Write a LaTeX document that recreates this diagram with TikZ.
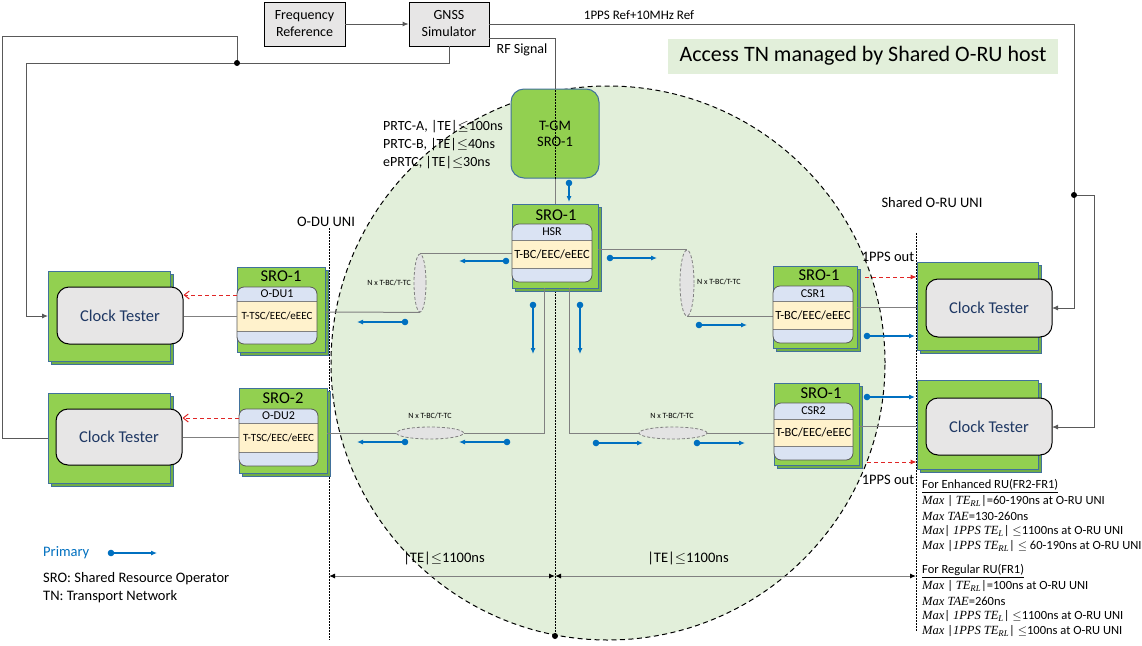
\documentclass[tikz,border=0pt]{standalone}
\usepackage{fontspec}
\setmainfont{Carlito}
\newfontfamily\mfont{Liberation Serif}
\usetikzlibrary{arrows.meta,shapes.geometric,shadows,calc}
\definecolor{ggreen}{HTML}{92D050}
\definecolor{gdark}{HTML}{70AD47}
\definecolor{gborder}{HTML}{41719C}
\definecolor{sblue}{HTML}{DAE3F3}
\definecolor{scream}{HTML}{FFF2CC}
\definecolor{sborder}{HTML}{595959}
\definecolor{ctgray}{HTML}{E7E6E6}
\definecolor{ctblue}{HTML}{1F3864}
\definecolor{pblue}{HTML}{0070C0}
\definecolor{rred}{HTML}{E02626}
\definecolor{cgreen}{HTML}{E2EFDA}
\definecolor{wgray}{HTML}{808080}
\definecolor{fgray}{HTML}{595959}
\definecolor{elgray}{HTML}{E3E3E3}
\newcommand\fs[1]{\fontsize{#1}{#1}\selectfont}
\newcommand\mi[1]{{\mfont\itshape #1}}
\newcommand\boxat[6]{\node[#1, minimum width={#5-#3}, minimum height={#6-#4}] (#2) at ({(#3+#5)/2},{(#4+#6)/2}) {};}
\newcommand\stripes[9]{%
  \begin{scope}
    \clip[rounded corners=7pt] (#2,#4) rectangle (#3,#7);
    \fill[sblue] (#2,#4) rectangle (#3,#5);
    \fill[scream] (#2,#5) rectangle (#3,#6);
    \fill[sblue] (#2,#6) rectangle (#3,#7);
    \draw[wgray, line width=0.8pt] (#2,#5) -- (#3,#5) (#2,#6) -- (#3,#6);
  \end{scope}
  \draw[sborder, line width=0.8pt, rounded corners=7pt] (#2,#4) rectangle (#3,#7);
  \node[font=\fs{12}, inner sep=0pt] (#1a) at ({(#2+#3)/2},{(#4+#5)/2}) {#8};
  \node[inner sep=0pt] (#1b) at ({(#2+#3)/2},{(#5+#6)/2}) {#9};}
\newcommand\parr[4]{\fill[pblue] (#1,#2) circle [radius=3.3pt];
  \draw[pblue, line width=1.1pt, -{Latex[length=6pt,width=5pt]}] (#1,#2) -- (#3,#4);}
\begin{document}
\begin{tikzpicture}[x=1pt,y=-1pt,
  gbox/.style={draw=gborder, fill=ggreen, line width=0.8pt, inner sep=0pt,
    copy shadow={shadow xshift=3pt, shadow yshift=-3pt, fill=gdark, draw=gborder, line width=0.8pt}},
  ctin/.style={draw=black, fill=ctgray, rounded corners=12pt, line width=1pt, inner sep=0pt, text=ctblue, font=\fs{16.5}},
  topbox/.style={draw=black, fill=ctgray, line width=0.8pt, inner sep=0pt, align=center, font=\fontsize{14}{17}\selectfont},
  title/.style={font=\fs{16.5}, inner sep=0pt},
  lbl/.style={font=\fs{14}, inner sep=0pt},
  wire/.style={wgray, line width=1pt},
  feed/.style={fgray, line width=0.9pt},
  redarr/.style={rred, line width=1pt, dash pattern=on 4pt off 3pt},
  nell/.style={ellipse, draw=wgray, fill=elgray, dash pattern=on 3pt off 2pt, line width=0.8pt, inner sep=0pt},
  small/.style={font=\fs{8}, inner sep=0pt},
  uni/.style={black, line width=0.6pt, dash pattern=on 1.5pt off 1.5pt},
  dim/.style={wgray, line width=1pt, {Latex[length=6pt,width=5pt,black]}-{Latex[length=6pt,width=5pt,black]}},
  rtxt/.style={anchor=west, inner sep=0pt, font=\fs{12.5}}
]
\useasboundingbox (0,0) rectangle (1142,645);
\fill[white] (0,0) rectangle (1142,645);

% shared circle
\fill[cgreen] (608,363) circle [radius=277pt];
\draw[black, line width=1pt, dash pattern=on 5pt off 3.5pt] (608,363) circle [radius=277pt];

% title
\node[fill=cgreen, minimum width=390, minimum height=35, font=\fs{22}, inner sep=0pt] (ttl) at (863,56) {Access TN managed by Shared O-RU host};

% top boxes
\node[topbox, minimum width=81, minimum height=44] (freq) at (304.5,24) {Frequency\\Reference};
\node[topbox, minimum width=80, minimum height=44] (gnss) at (449,24) {GNSS\\Simulator};
\draw[feed, -{Latex[length=6pt,width=5pt]}] (freq.east) -- (gnss.west);
\node[font=\fs{13}, inner sep=0pt] (ppsref) at (639,15) {1PPS Ref+10MHz Ref};
\node[lbl] (rfs) at (522,50) {RF Signal};

% junctions
\coordinate (jl) at (237,63);
\coordinate (jr) at (1074,195);

% T-GM
\node[draw=gborder, fill=ggreen, rounded corners=13pt, line width=1pt, minimum width=88, minimum height=89, inner sep=0pt, align=center, font=\fontsize{14.5}{16}\selectfont] (tgm) at (555,133.5) {T-GM\\SRO-1};
\draw[uni] (555,90) -- (555,636);
\fill (555,636) circle [radius=3pt];

% PRTC labels
\node[lbl, anchor=west] (prtca) at (383,127) {PRTC-A, |TE|$\leq$100ns};
\node[lbl, anchor=west] (prtcb) at (383,145) {PRTC-B, |TE|$\leq$40ns};
\node[lbl, anchor=west] (eprtc) at (383,163) {ePRTC, |TE|$\leq$30ns};

% UNI lines and labels
\draw[uni] (329,228) -- (329,640);
\draw[uni] (916,233) -- (916,632);
\node[font=\fs{14.5}, inner sep=0pt] (odul) at (326,222) {O-DU UNI};
\node[font=\fs{14.5}, inner sep=0pt] (orul) at (932,203) {Shared O-RU UNI};

% feed lines from GNSS
\draw[feed] (gnss.east |- 0,24) -| (jr);
\draw[feed, -{Latex[length=6pt,width=5pt]}] (jr) -- (1074,308) -- (1052,308);
\draw[feed, -{Latex[length=6pt,width=5pt]}] (jr) -- (1094,195) -- (1094,427) -- (1052,427);
\draw[feed] (gnss.east |- 0,38) -| (tgm.north);
\draw[feed] (gnss.south) |- (jl);
\draw[feed, -{Latex[length=6pt,width=5pt]}] (jl) -- (26,63) -- (26,316) -- (48,316);
\draw[feed] (jl) -- (237,36) -- (2,36) -- (2,438) -- (48,438);
\fill (jl) circle [radius=3pt];
\fill (jr) circle [radius=3pt];

% TN ellipses
\node[nell, minimum width=12, minimum height=58] (el1) at (420,283) {};
\node[nell, minimum width=14, minimum height=66] (el2) at (687,283) {};
\node[nell, minimum width=67, minimum height=12] (el3) at (430,433) {};
\node[nell, minimum width=68, minimum height=12] (el4) at (673,433) {};
\node[small, anchor=east] (el1l) at (411,283) {N x T-BC/T-TC};
\node[small, anchor=west] (el2l) at (697,282) {N x T-BC/T-TC};
\node[small] (el3l) at (430,416) {N x T-BC/T-TC};
\node[small] (el4l) at (672,416) {N x T-BC/T-TC};

% green boxes
\boxat{gbox}{ctl1}{48}{271}{170}{361}
\boxat{gbox}{ctl2}{48}{393}{170}{483}
\boxat{gbox}{odu1}{237}{267}{325}{352}
\boxat{gbox}{odu2}{239}{388}{327}{473}
\boxat{gbox}{hsr}{512}{204}{598}{288}
\boxat{gbox}{csr1}{773}{266}{857}{348}
\boxat{gbox}{csr2}{774}{383}{859}{465}
\boxat{gbox}{ctr1}{917}{262}{1038}{350}
\boxat{gbox}{ctr2}{917}{380}{1038}{469}

% TN wiring
\draw[wire] (tgm.south) -- (hsr.north);
\draw[wire] (odu1.east |- 0,312) -- (el1.south);
\draw[wire] (el1.north) -- (el1.north -| hsr.west);
\draw[wire] (hsr.east |- el2.north) -- (el2.north);
\draw[wire] (el2.south) -- (el2.south -| csr1.west);
\draw[wire] (hsr.south -| 544,0) |- (el3.east);
\draw[wire] (el3.west) -- (el3.west -| odu2.east);
\draw[wire] (hsr.south -| 569,0) |- (el4.west);
\draw[wire] (el4.east) -- (el4.east -| csr2.west);

% box titles
\node[title] (odu1t) at (281,276) {SRO-1};
\node[title] (odu2t) at (283,398) {SRO-2};
\node[title] (hsrt) at (556,215) {SRO-1};
\node[title] (csr1t) at (819,275) {SRO-1};
\node[title] (csr2t) at (821,393) {SRO-1};

% striped inner boxes
\stripes{odu1i}{237}{317}{287}{301}{331}{344}{O-DU1}{\fs{11}T-TSC/EEC/eEEC}
\stripes{odu2i}{239}{318}{409}{423}{452}{466}{O-DU2}{\fs{11}T-TSC/EEC/eEEC}
\stripes{hsri}{512}{592}{224}{240}{268}{282}{HSR}{\fs{12.5}T-BC/EEC/eEEC}
\stripes{csr1i}{773}{853}{286}{301}{329}{343}{CSR1}{\fs{12.5}T-BC/EEC/eEEC}
\stripes{csr2i}{774}{853}{403}{419}{446}{460}{CSR2}{\fs{12.5}T-BC/EEC/eEEC}

% clock testers
\node[ctin, minimum width=126, minimum height=57] (ctl1in) at (120,315.5) {Clock Tester};
\node[ctin, minimum width=126, minimum height=56] (ctl2in) at (119,437) {Clock Tester};
\node[ctin, minimum width=126, minimum height=58] (ctr1in) at (989,308) {Clock Tester};
\node[ctin, minimum width=126, minimum height=57] (ctr2in) at (989,426.5) {Clock Tester};

% O-DU side links
\draw[wire] (ctl1in.east |- 0,316) -- (odu1.west |- 0,316);
\draw[wire] (ctl2in.east |- 0,437) -- (odu2.west |- 0,437);
\draw[redarr, -{Straight Barb[length=5pt,width=8pt]}] (odu1.west |- 0,295) -- (ctl1in.east |- 0,295);
\draw[redarr, -{Straight Barb[length=5pt,width=8pt]}] (odu2.west |- 0,418) -- (ctl2in.east |- 0,418);

% O-RU side links
\draw[wire] (csr1.east |- 0,307) -- (ctr1.west |- 0,307);
\draw[wire] (csr2.east |- 0,426) -- (ctr2.west |- 0,426);
\draw[redarr, -{Latex[length=6pt,width=5pt]}] ([xshift=8pt]csr1.east |- 0,277) -- (ctr1.west |- 0,277);
\draw[redarr, -{Latex[length=6pt,width=5pt]}] ([xshift=8pt]csr2.east |- 0,462) -- (ctr2.west |- 0,462);
\node[font=\fs{14.5}, inner sep=0pt] (pps1) at (888,257) {1PPS out};
\node[font=\fs{14.5}, inner sep=0pt] (pps2) at (888,480) {1PPS out};

% primary arrows
\parr{506}{261}{459}{261}
\parr{405}{322}{357}{322}
\parr{610}{258}{657}{258}
\parr{699}{325}{747}{325}
\parr{533}{305}{533}{354}
\parr{580}{305}{580}{354}
\parr{405}{442}{357}{442}
\parr{507}{442}{459}{442}
\parr{596}{443}{643}{443}
\parr{697}{443}{745}{443}
\parr{867}{336}{915}{336}
\parr{867}{397}{915}{397}
\parr{569}{183}{569}{202}

% dimension lines
\coordinate (dl) at (329,576);
\coordinate (dm) at (555,576);
\coordinate (dr) at (916,576);
\draw[dim] (dl) -- (dm);
\draw[dim] (dm) -- (dr);
\node[font=\fs{14.5}, inner sep=0pt] (te1) at (444,558) {|TE|$\leq$1100ns};
\node[font=\fs{14.5}, inner sep=0pt] (te2) at (688,558) {|TE|$\leq$1100ns};

% legend
\node[anchor=west, text=pblue, font=\fs{14.5}, inner sep=0pt] (prim) at (43,553) {Primary};
\parr{111}{553}{157}{553}
\node[anchor=west, font=\fs{14.5}, inner sep=0pt] (leg1) at (43,579) {SRO: Shared Resource Operator};
\node[anchor=west, font=\fs{14.5}, inner sep=0pt] (leg2) at (43,597) {TN: Transport Network};

% requirement text
\node[rtxt] (r1) at (922,486) {\underline{For Enhanced RU(FR2-FR1)}};
\node[rtxt] (r2) at (922,501) {\mi{Max} | \mi{TE}\textsubscript{\mi{RL}}|=60-190ns at O-RU UNI};
\node[rtxt] (r3) at (922,516) {\mi{Max TAE}=130-260ns};
\node[rtxt] (r4) at (922,531) {\mi{Max}| \mi{1PPS TE}\textsubscript{\mi{L}}| $\leq$1100ns at O-RU UNI};
\node[rtxt] (r5) at (922,546) {\mi{Max} |\mi{1PPS TE}\textsubscript{\mi{RL}}| $\leq$ 60-190ns at O-RU UNI};
\node[rtxt] (r6) at (922,571) {\underline{For Regular RU(FR1)}};
\node[rtxt] (r7) at (922,586) {\mi{Max} | \mi{TE}\textsubscript{\mi{RL}}|=100ns at O-RU UNI};
\node[rtxt] (r8) at (922,601) {\mi{Max TAE}=260ns};
\node[rtxt] (r9) at (922,616) {\mi{Max}| \mi{1PPS TE}\textsubscript{\mi{L}}| $\leq$1100ns at O-RU UNI};
\node[rtxt] (r10) at (922,631) {\mi{Max} |\mi{1PPS TE}\textsubscript{\mi{RL}}| $\leq$100ns at O-RU UNI};
\end{tikzpicture}
\end{document}
